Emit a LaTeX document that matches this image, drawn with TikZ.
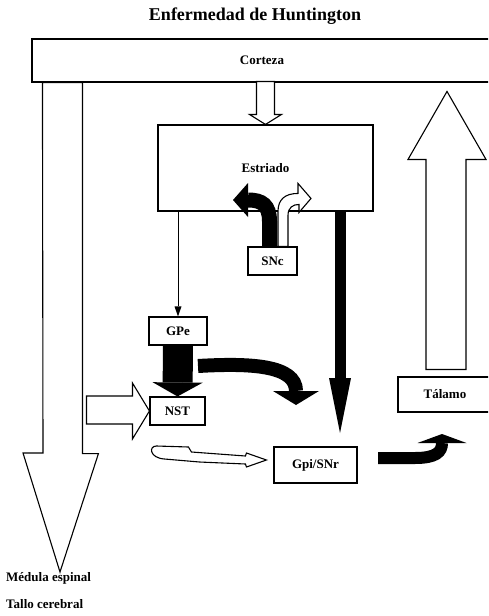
\documentclass[tikz,border=0pt]{standalone}
\usepackage{fontspec}
\setmainfont{Liberation Serif}
\usetikzlibrary{positioning}
\usetikzlibrary{calc}
\usetikzlibrary{arrows.meta}
\newcommand{\regionfont}{\bfseries\fontsize{13}{15}\selectfont}
\newcommand{\headfont}{\bfseries\fontsize{18}{22}\selectfont}
\tikzset{
  box/.style            = { rectangle, inner sep=0pt },
  border/.style         = { line width=1.1pt, draw=black },
  region/.style         = { box, border, font=\regionfont },
  tag/.style            = { inner sep=0pt, font=\regionfont, anchor=west },
}
\tikzset{
  relation/.style       = { draw=black },
  excitatory/.style     = { relation, fill=white, line width=1.1pt, line join=miter },
  inhibitory/.style     = { relation, line width=#1 },
  inhibitory/.default   = 12pt,
  blockhead/.style 2 args = { -{Triangle[width=#1, length=#2, line width=0pt]} },
  projection/.style     = { relation, line width=0.9pt, -{Triangle[width=7pt, length=10pt, line width=0pt]} }
}
\begin{document}
\begin{tikzpicture}[x=1pt, y=-1pt]
  \useasboundingbox (0,0) rectangle (488,616);
  \clip (0,0) rectangle (488,616);
  \node (title) [font=\headfont] at (255,16) {Enfermedad de Huntington};

  \node (corteza)  [region, minimum width=460pt, minimum height=43pt] at (262,60.5)  {Corteza};
  \node (estriado) [region, minimum width=215pt, minimum height=86pt] at (265.5,168) {Estriado};
  \node (snc)      [region, minimum width=49pt,  minimum height=28pt] at (272.5,261) {SNc};
  \node (gpe)      [region, minimum width=58pt,  minimum height=28pt] at (178,331)   {GPe};
  \node (nst)      [region, minimum width=55pt,  minimum height=28pt] at (177.5,411) {NST};
  \node (gpi)      [region, minimum width=83pt,  minimum height=36pt] at (315.5,465) {Gpi/SNr};
  \node (talamo)   [region, minimum width=94pt,  minimum height=35pt] at (445,394.5) {Tálamo};
  \node (medula)   [tag] at (6,578) {Médula espinal};
  \node (tallo)    [tag] at (6,604) {Tallo cerebral};

  \coordinate (medtip)  at (60,572);
  \coordinate (gpitip)  at (340,433);
  \coordinate (gpeout)  at (198,366);
  \coordinate (gpiout)  at (378,458);

  % hollow arrows
  \draw [excitatory] (medtip) -- ++(-37,-119) -- ++(20,0) -- ($(corteza.south west)+(11,0)$)
        -- ++(40,0) -- ++(0,371) -- ++(16,0) -- cycle;
  \draw [excitatory] (estriado.north) -- ++(-16,-10) -- ++(7,0) -- ++(0,-33)
        -- ++(18,0) -- ++(0,33) -- ++(7,0) -- cycle;
  \draw [excitatory] ($(talamo.north)+(-19,-7)$) -- ++(0,-210) -- ++(-18,0) -- ++(39,-68)
        -- ++(39,68) -- ++(-20,0) -- ++(0,210) -- cycle;
  \draw [excitatory] (nst.west) -- ++(-17,-28) -- ++(0,13) -- ++(-46,0) -- ++(0,28)
        -- ++(46,0) -- ++(0,15) -- cycle;
  \begin{scope}[shift={(snc.north)}]
    \draw [excitatory] (5.5,0) -- (5.5,-35) .. controls (5.5,-47) and (12.5,-53) .. (25.5,-53)
          -- (25.5,-63) -- (38.5,-48) -- (26.5,-34) -- (26.5,-42)
          .. controls (20.5,-42) and (15.5,-39) .. (15.5,-31) -- (15.5,0) -- cycle;
  \end{scope}
  \begin{scope}[shift={(gpi.west)}]
    \draw [excitatory] (-7,-5) -- (-27,-12) -- (-28,-9) -- (-82,-13) -- (-85,-18) -- (-117,-19)
          .. controls (-125,-19) and (-124,-7) .. (-109,-6) -- (-74,-3) -- (-28,-1) -- (-27,2) -- cycle;
  \end{scope}

  % solid arrows
  \draw [projection] (gpe.north |- estriado.south) -- (gpe.north);
  \draw [inhibitory=11, blockhead={22pt}{55pt}] (gpitip |- estriado.south) -- (gpitip);
  \draw [inhibitory=30, blockhead={50pt}{14pt}] (gpe.south) -- (nst.north);
  \draw [inhibitory=14, blockhead={46pt}{14pt}] (gpeout) .. controls (250,363) and (296,365) .. (296,405);
  \draw [inhibitory=12, blockhead={49pt}{9pt}]  (gpiout) -- (415,458) .. controls (436,458) and (442,452) .. (442,434);
  \draw [inhibitory=15, blockhead={34pt}{15pt}] ($(snc.north)+(-3,0)$) -- ++(0,-25)
        .. controls (269.5,205) and (262,200) .. (233,200);
\end{tikzpicture}
\end{document}
